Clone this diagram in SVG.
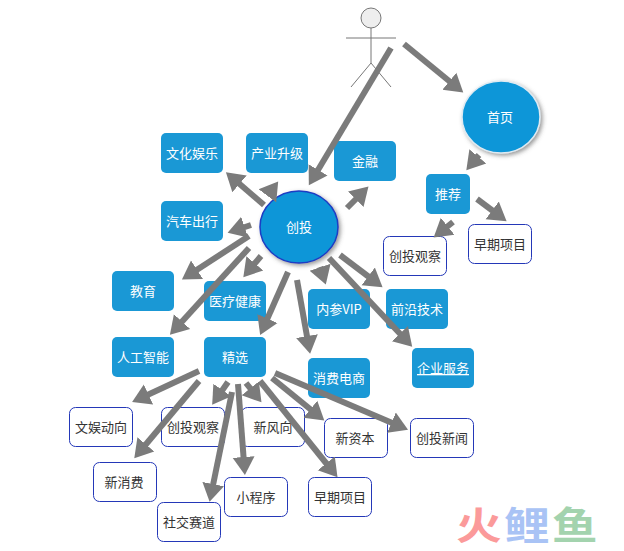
<svg xmlns="http://www.w3.org/2000/svg" width="624" height="551" viewBox="0 0 624 551">
<style>
text{font-family:"Noto Sans CJK SC","Liberation Sans",sans-serif;font-size:13px;text-anchor:middle}
.b rect{fill:#1a98d5}
.b text,.c text{fill:#fff}
.w rect{fill:#fff;stroke:#2438b8;stroke-width:1}
.w text{fill:#333}
.arrows line{stroke:#7b7b7b;stroke-width:6;marker-end:url(#h)}
.person{stroke:#777;stroke-width:1;fill:none}
.wm{font-size:38px;font-weight:700;text-anchor:start;letter-spacing:2px}
</style>
<defs>
<marker id="h" markerUnits="userSpaceOnUse" markerWidth="20" markerHeight="24" refX="6" refY="12" orient="auto">
<path d="M0 1L18 12L0 23Z" fill="#7b7b7b"/>
</marker>
<filter id="s" x="-20%" y="-20%" width="150%" height="150%"><feDropShadow dx="2" dy="2" stdDeviation="2" flood-color="#555" flood-opacity="0.6"/></filter>
</defs>
<rect width="624" height="551" fill="#fff"/>
<g id="actor" class="person">
<circle cx="371" cy="18" r="10" fill="#eee"/>
<path d="M371 28V63M346 38H396M371 63L351 87M371 63L391 87"/>
</g>
<g id="n-home" class="c"><ellipse cx="501" cy="117" rx="39" ry="36" fill="#0d96d8" stroke="#dfeaf2" stroke-width="1.5" filter="url(#s)"/><text x="500" y="122">首页</text></g>
<g id="n-ct" class="c"><ellipse cx="299" cy="227" rx="39" ry="36" fill="#0d96d8" stroke="#1a3cc4" stroke-width="1.5" filter="url(#s)"/><text x="299" y="232">创投</text></g>
<g id="n1" class="b"><rect x="161" y="133" width="62" height="40" rx="5"/><text x="192" y="158">文化娱乐</text></g>
<g id="n2" class="b"><rect x="246" y="133" width="62" height="40" rx="5"/><text x="277" y="158">产业升级</text></g>
<g id="n3" class="b"><rect x="334" y="141" width="62" height="40" rx="5"/><text x="365" y="166">金融</text></g>
<g id="n4" class="b"><rect x="161" y="201" width="62" height="40" rx="5"/><text x="192" y="226">汽车出行</text></g>
<g id="n5" class="b"><rect x="112" y="271" width="62" height="40" rx="5"/><text x="143" y="296">教育</text></g>
<g id="n6" class="b"><rect x="204" y="281" width="62" height="40" rx="5"/><text x="235" y="306">医疗健康</text></g>
<g id="n7" class="b"><rect x="308" y="289" width="62" height="40" rx="5"/><text x="339" y="314">内参VIP</text></g>
<g id="n8" class="b"><rect x="386" y="289" width="62" height="40" rx="5"/><text x="417" y="314">前沿技术</text></g>
<g id="n9" class="b"><rect x="308" y="358" width="62" height="40" rx="5"/><text x="339" y="383">消费电商</text></g>
<g id="n10" class="b"><rect x="412" y="348" width="62" height="40" rx="5"/><text x="443" y="373" text-decoration="underline">企业服务</text></g>
<g id="n11" class="b"><rect x="112" y="337" width="62" height="40" rx="5"/><text x="143" y="362">人工智能</text></g>
<g id="n12" class="b"><rect x="204" y="337" width="62" height="40" rx="5"/><text x="235" y="362">精选</text></g>
<g id="n13" class="b"><rect x="426" y="174" width="44" height="40" rx="5"/><text x="448" y="199">推荐</text></g>
<g id="w1" class="w"><rect x="383.500" y="236.500" width="63" height="39" rx="6"/><text x="415" y="261">创投观察</text></g>
<g id="w2" class="w"><rect x="468.500" y="224.500" width="63" height="39" rx="6"/><text x="500" y="249">早期项目</text></g>
<g id="w3" class="w"><rect x="69.500" y="407.500" width="63" height="39" rx="6"/><text x="101" y="432">文娱动向</text></g>
<g id="w4" class="w"><rect x="161.500" y="407.500" width="63" height="39" rx="6"/><text x="193" y="432">创投观察</text></g>
<g id="w5" class="w"><rect x="241.500" y="407.500" width="63" height="39" rx="6"/><text x="273" y="432">新风向</text></g>
<g id="w6" class="w"><rect x="324.500" y="418.500" width="63" height="39" rx="6"/><text x="355" y="443">新资本</text></g>
<g id="w7" class="w"><rect x="410.500" y="418.500" width="63" height="39" rx="6"/><text x="442" y="443">创投新闻</text></g>
<g id="w8" class="w"><rect x="93.500" y="462.500" width="63" height="39" rx="6"/><text x="124" y="487">新消费</text></g>
<g id="w9" class="w"><rect x="157.500" y="502.500" width="63" height="39" rx="6"/><text x="189" y="527">社交赛道</text></g>
<g id="w10" class="w"><rect x="224.500" y="477.500" width="63" height="39" rx="6"/><text x="256" y="502">小程序</text></g>
<g id="w11" class="w"><rect x="308.500" y="477.500" width="63" height="39" rx="6"/><text x="340" y="502">早期项目</text></g>
<g id="connectors" class="arrows">
<line x1="391" y1="48" x2="315" y2="175"/>
<line x1="404" y1="44" x2="454" y2="85"/>
<line x1="479" y1="155" x2="474" y2="161"/>
<line x1="453" y1="222" x2="443" y2="230"/>
<line x1="477" y1="199" x2="497" y2="214"/>
<line x1="264" y1="205" x2="235" y2="180"/>
<line x1="268" y1="195" x2="271" y2="191"/>
<line x1="347" y1="208" x2="360" y2="195"/>
<line x1="251" y1="225" x2="239" y2="229"/>
<line x1="249" y1="236" x2="192" y2="273"/>
<line x1="249" y1="248" x2="178" y2="326"/>
<line x1="261" y1="256" x2="251" y2="268"/>
<line x1="288" y1="272" x2="265" y2="324"/>
<line x1="297" y1="280" x2="308" y2="342"/>
<line x1="320" y1="267" x2="322" y2="273"/>
<line x1="340" y1="255" x2="373" y2="280"/>
<line x1="329" y1="258" x2="404" y2="338"/>
<line x1="199" y1="371" x2="143" y2="397"/>
<line x1="199" y1="381" x2="142" y2="449"/>
<line x1="228" y1="382" x2="219" y2="395"/>
<line x1="232" y1="392" x2="212" y2="490"/>
<line x1="238" y1="384" x2="244" y2="463"/>
<line x1="246" y1="383" x2="254" y2="393"/>
<line x1="260" y1="381" x2="330" y2="468"/>
<line x1="272" y1="378" x2="315" y2="413"/>
<line x1="275" y1="373" x2="397" y2="425"/>
</g>
<text class="wm" transform="translate(456 539) scale(1.2 1)" x="0" y="0"><tspan fill="#fb9a9a">火</tspan><tspan fill="#a9c3f5">鲤</tspan><tspan fill="#a3d3ae">鱼</tspan></text>
</svg>
